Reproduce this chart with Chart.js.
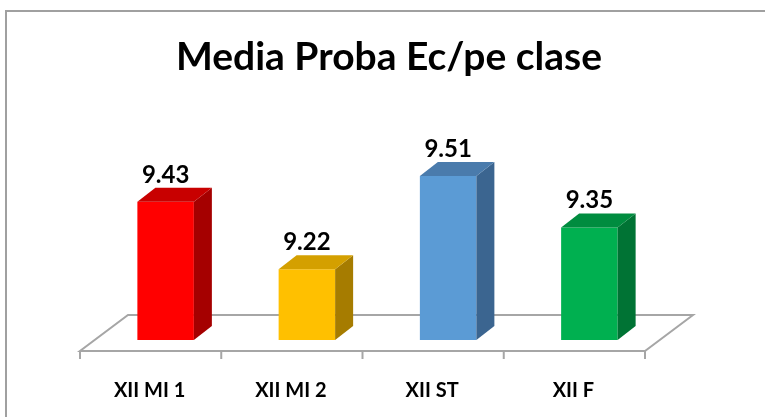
<!DOCTYPE html>
<html>
<head>
<meta charset="utf-8">
<script src="https://cdn.jsdelivr.net/npm/chart.js@4"></script>
<style>
    html, body { margin: 0; padding: 0; background: #fff; overflow: hidden; }
    #wrap { position: relative; width: 765px; height: 417px; }
</style>
</head>
<body>
<div id="wrap"><canvas id="chartMedia" width="765" height="417"></canvas></div>
<script>
// date
let titlu = 'Media Proba Ec/pe clase'
let clase = ['XII MI 1', 'XII MI 2', 'XII ST', 'XII F']
let medii = [9.43, 9.22, 9.51, 9.35]

// culori: fata, lateral, sus
let culoriFata = ['#FF0000', '#FFC000', '#5B9BD5', '#00B050']
let culoriLateral = ['#A50000', '#A67C00', '#3B6590', '#007334']
let culoriSus = ['#C80000', '#D4A000', '#4A7BAC', '#008C3F']

const adancime = { dx: 18, dy: -14 }

const efect3d = {
    id: 'efect3d',
    beforeDraw(chart) {
        const ctx = chart.ctx
        const area = chart.chartArea
        ctx.save()
        // chenar
        ctx.strokeStyle = '#A0A0A0'
        ctx.lineWidth = 2
        ctx.beginPath()
        ctx.moveTo(6, 417)
        ctx.lineTo(6, 11)
        ctx.lineTo(765, 11)
        ctx.stroke()

        // titlu
        ctx.fillStyle = '#000'
        ctx.font = 'bold 39px Lato'
        ctx.textAlign = 'center'
        ctx.textBaseline = 'alphabetic'
        ctx.fillText(titlu, 389, 70)

        // podea
        let fy = area.bottom + 11
        let by = fy - 36
        let fl = area.left - 15
        let fr = area.right - 15
        ctx.strokeStyle = '#A6A6A6'
        ctx.lineWidth = 2
        ctx.beginPath()
        ctx.moveTo(fl, fy)
        ctx.lineTo(fr, fy)
        ctx.lineTo(fr + 48, by)
        ctx.lineTo(fl + 48, by)
        ctx.closePath()
        ctx.stroke()
        // gradatii
        let pas = (area.right - area.left) / clase.length
        for (let i = 0; i <= clase.length; i++) {
            let gx = fl + i * pas
            ctx.beginPath()
            ctx.moveTo(gx, fy)
            ctx.lineTo(gx, fy + 8)
            ctx.stroke()
        }
        ctx.restore()
    },
    afterDatasetsDraw(chart) {
        const ctx = chart.ctx
        const meta = chart.getDatasetMeta(0)
        const area = chart.chartArea
        ctx.save()
        meta.data.forEach(function(bar, i) {
            let p = bar.getProps(['x', 'y', 'width'], true)
            let l = p.x - p.width / 2
            let r = p.x + p.width / 2
            let t = p.y
            let b = area.bottom
            // lateral
            ctx.fillStyle = culoriLateral[i]
            ctx.beginPath()
            ctx.moveTo(r, t)
            ctx.lineTo(r + adancime.dx, t + adancime.dy)
            ctx.lineTo(r + adancime.dx, b + adancime.dy)
            ctx.lineTo(r, b)
            ctx.closePath()
            ctx.fill()
            // sus
            ctx.fillStyle = culoriSus[i]
            ctx.beginPath()
            ctx.moveTo(l, t)
            ctx.lineTo(l + adancime.dx, t + adancime.dy)
            ctx.lineTo(r + adancime.dx, t + adancime.dy)
            ctx.lineTo(r, t)
            ctx.closePath()
            ctx.fill()
            // eticheta
            ctx.fillStyle = '#000'
            ctx.font = 'bold 24px Lato'
            ctx.textAlign = 'center'
            ctx.textBaseline = 'alphabetic'
            ctx.fillText(medii[i].toFixed(2), p.x, t - 19)
        })
        ctx.restore()
    }
}

new Chart(document.getElementById('chartMedia'), {
    type: 'bar',
    data: {
        labels: clase,
        datasets: [{
            label: titlu,
            data: medii,
            backgroundColor: culoriFata,
            borderWidth: 0,
            barPercentage: 0.4,
            categoryPercentage: 1
        }]
    },
    options: {
        responsive: false,
        animation: false,
        layout: {
            padding: { left: 95, right: 105, top: 147, bottom: 0 }
        },
        plugins: {
            legend: { display: false },
            title: { display: false },
            tooltip: { enabled: false }
        },
        scales: {
            y: {
                display: false,
                min: 9,
                max: 9.6
            },
            x: {
                grid: { display: false },
                border: { display: false },
                ticks: {
                    color: '#000',
                    font: { family: 'Lato', size: 20, weight: 'bold' },
                    labelOffset: -16,
                    padding: 31
                },
                afterFit: function(scale) {
                    scale.height = 77
                }
            }
        }
    },
    plugins: [efect3d]
})
</script>
</body>
</html>
